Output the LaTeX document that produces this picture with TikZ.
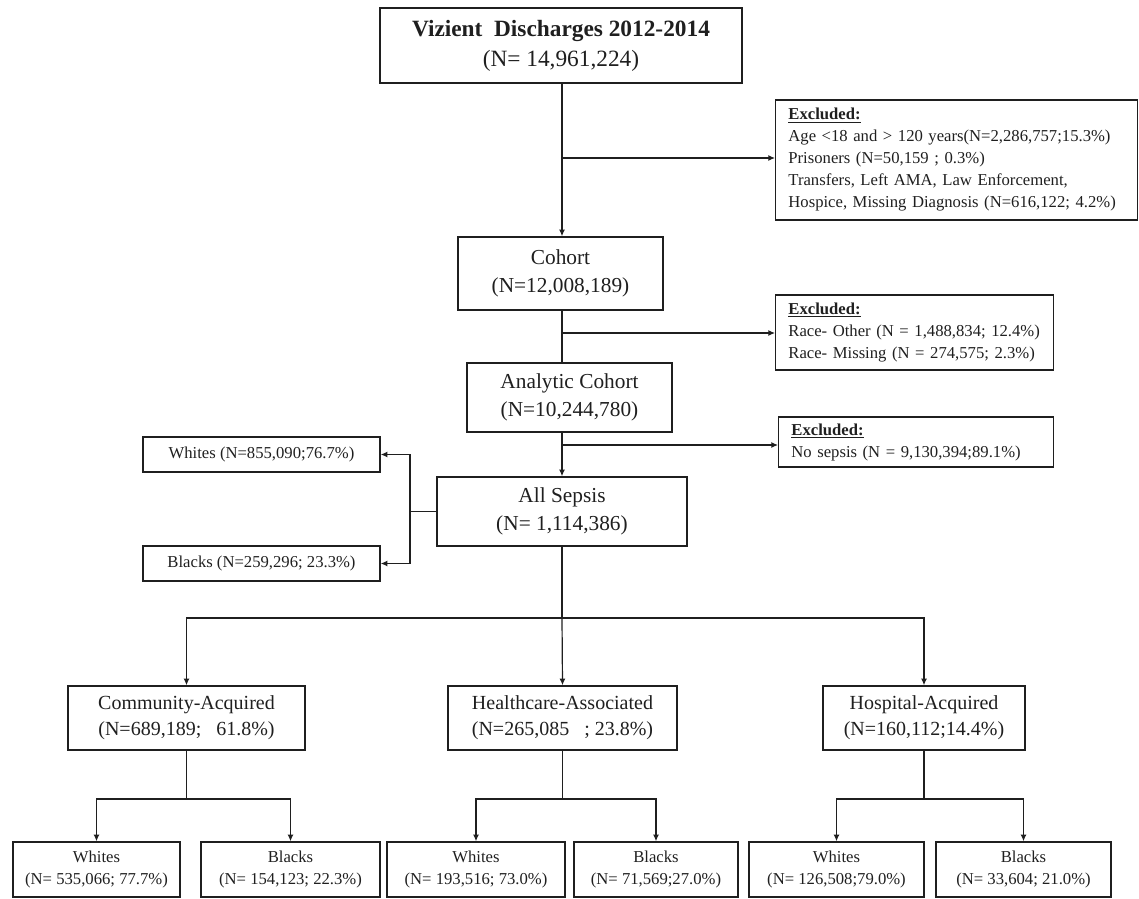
\documentclass[tikz,border=0pt]{standalone}
\usepackage{fontspec}
\setmainfont{Liberation Serif}
\usepackage{tikz}
\usetikzlibrary{arrows.meta}

\begin{document}
\begin{tikzpicture}[x=0.75pt,y=-0.75pt,
    >={Latex[length=5pt,width=4.5pt]},
    color=black!88,line width=0.9pt,
    box/.style={draw,line width=1.1pt,inner sep=0pt,align=center},
    big/.style={font=\fontsize{17.5}{22.5}\selectfont},
    mid/.style={font=\fontsize{16}{21}\selectfont},
    cat/.style={font=\fontsize{15}{19.5}\selectfont},
    small/.style={font=\fontsize{12.5}{16}\selectfont},
    excl/.style={box,font=\fontsize{12.5}{16.5}\selectfont,align=left,anchor=west,inner xsep=9.5pt}]

\useasboundingbox (0,0) rectangle (1139,899);

\node[box,big,minimum width=271.5pt,minimum height=56.25pt] (top) at (561,45.5)
    {\textbf{Vizient\ \ Discharges 2012-2014}\\(N= 14,961,224)};
\node[excl,text width=252.5pt,minimum height=90pt] (ex1) at (775,160)
    {\textbf{\underline{Excluded:}}\\Age <18 and > 120 years(N=2,286,757;15.3\%)\\Prisoners (N=50,159 ; 0.3\%)\\Transfers, Left AMA, Law Enforcement,\\Hospice, Missing Diagnosis (N=616,122; 4.2\%)};
\node[box,mid,minimum width=153.75pt,minimum height=54.75pt] (cohort) at (560.5,273.5)
    {Cohort\\(N=12,008,189)};
\node[excl,text width=189.5pt,minimum height=56.25pt] (ex2) at (775,332.5)
    {\textbf{\underline{Excluded:}}\\Race- Other (N = 1,488,834; 12.4\%)\\Race- Missing (N = 274,575; 2.3\%)};
\node[box,mid,minimum width=153.75pt,minimum height=51.75pt] (analytic) at (569.5,397.5)
    {Analytic Cohort\\(N=10,244,780)};
\node[excl,text width=187.25pt,minimum height=37.5pt] (ex3) at (778,442)
    {\textbf{\underline{Excluded:}}\\No sepsis (N = 9,130,394;89.1\%)};
\node[box,mid,minimum width=187.5pt,minimum height=51.75pt] (sepsis) at (562,511.5)
    {All Sepsis\\(N= 1,114,386)};
\node[box,small,minimum width=177.75pt,minimum height=26.25pt] (whites) at (261.5,454.5)
    {Whites (N=855,090;76.7\%)};
\node[box,small,minimum width=177.75pt,minimum height=26.25pt] (blacks) at (261.5,563.5)
    {Blacks (N=259,296; 23.3\%)};

\node[box,cat,minimum width=177.75pt,minimum height=48pt] (comm) at (186.5,718)
    {Community-Acquired\\(N=689,189;\ \ \ 61.8\%)};
\node[box,cat,minimum width=171.75pt,minimum height=48pt] (health) at (562.5,718)
    {Healthcare-Associated\\(N=265,085\ \ \ ; 23.8\%)};
\node[box,cat,minimum width=151.5pt,minimum height=48pt] (hosp) at (924,718)
    {Hospital-Acquired\\(N=160,112;14.4\%)};

\node[box,small,minimum width=125.25pt,minimum height=41.25pt] (w1) at (96.5,869.5)
    {Whites\\(N= 535,066; 77.7\%)};
\node[box,small,minimum width=134.25pt,minimum height=41.25pt] (b1) at (290.5,869.5)
    {Blacks\\(N= 154,123; 22.3\%)};
\node[box,small,minimum width=133.5pt,minimum height=41.25pt] (w2) at (476,869.5)
    {Whites\\(N= 193,516; 73.0\%)};
\node[box,small,minimum width=123pt,minimum height=41.25pt] (b2) at (656,869.5)
    {Blacks\\(N= 71,569;27.0\%)};
\node[box,small,minimum width=131.25pt,minimum height=41.25pt] (w3) at (836.5,869.5)
    {Whites\\(N= 126,508;79.0\%)};
\node[box,small,minimum width=131.25pt,minimum height=41.25pt] (b3) at (1023.5,869.5)
    {Blacks\\(N= 33,604; 21.0\%)};

\coordinate (s1) at (562,158);
\coordinate (s2) at (562,333);
\coordinate (s3) at (562,445);
\coordinate (race) at (410,511.5);
\coordinate (split) at (562,618);
\coordinate (c1) at (186.5,799);
\coordinate (c2) at (562.5,799);
\coordinate (c3) at (924,799);

\draw[->] (top.south -| s1) -- (s1 |- cohort.north);
\draw[->] (s1) -- (s1 -| ex1.west);
\draw (cohort.south -| s2) -- (s2 |- analytic.north);
\draw[->] (s2) -- (s2 -| ex2.west);
\draw[->] (analytic.south -| s3) -- (sepsis.north);
\draw[->] (s3) -- (s3 -| ex3.west);

\draw (sepsis.west) -- (race);
\draw[->] (race) |- (whites.east);
\draw[->] (race) |- (blacks.east);

\draw (sepsis.south) -- (split);
\draw[->] (split) -| (comm.north);
\draw[->] (split) -- (health.north);
\draw[->] (split) -| (hosp.north);

\draw (comm.south) -- (c1);
\draw[->] (c1) -| (w1.north);
\draw[->] (c1) -| (b1.north);
\draw (health.south) -- (c2);
\draw[->] (c2) -| (w2.north);
\draw[->] (c2) -| (b2.north);
\draw (hosp.south) -- (c3);
\draw[->] (c3) -| (w3.north);
\draw[->] (c3) -| (b3.north);

\end{tikzpicture}
\end{document}
